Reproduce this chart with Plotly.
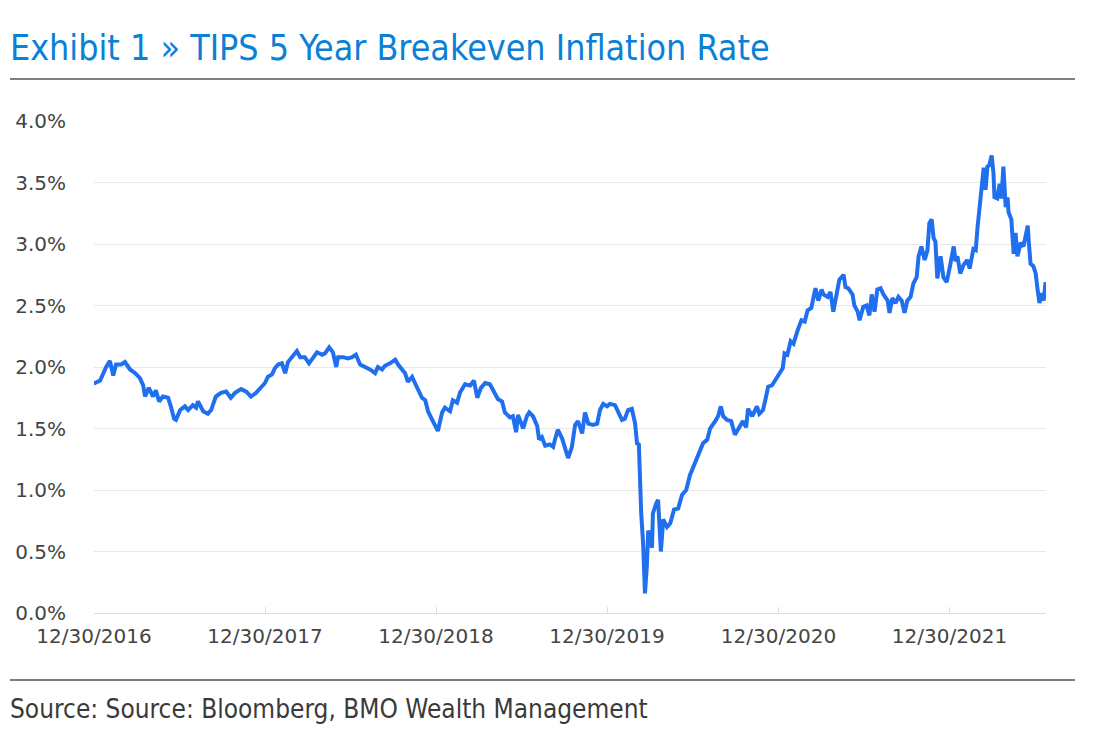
import plotly.graph_objects as go

# ---------------- data ----------------
dates_2017 = ["2016-12-30", "2017-01-01", "2017-01-12", "2017-01-18", "2017-01-25", "2017-02-02",
              "2017-02-09", "2017-02-15", "2017-02-26", "2017-03-06", "2017-03-17", "2017-03-28",
              "2017-04-07", "2017-04-14", "2017-04-18", "2017-04-26", "2017-05-05", "2017-05-11",
              "2017-05-18", "2017-05-26", "2017-06-06", "2017-06-12", "2017-06-19", "2017-06-23",
              "2017-07-02", "2017-07-12", "2017-07-19", "2017-07-29", "2017-08-05", "2017-08-09",
              "2017-08-20", "2017-08-30", "2017-09-06", "2017-09-16", "2017-09-27", "2017-10-08",
              "2017-10-18", "2017-10-27", "2017-11-09", "2017-11-20", "2017-11-30", "2017-12-11",
              "2017-12-19", "2017-12-30"]
vals_2017 = [1.87, 1.87, 1.89, 1.95, 2.00, 2.05,
             1.93, 2.02, 2.02, 2.04, 1.98, 1.95,
             1.91, 1.85, 1.76, 1.83, 1.76, 1.81,
             1.72, 1.76, 1.75, 1.68, 1.58, 1.57,
             1.65, 1.68, 1.65, 1.69, 1.67, 1.72,
             1.64, 1.62, 1.65, 1.76, 1.79, 1.80,
             1.75, 1.79, 1.82, 1.80, 1.76, 1.79,
             1.82, 1.87]

dates_2018 = ["2018-01-05", "2018-01-14", "2018-01-20", "2018-01-27", "2018-02-04", "2018-02-11",
              "2018-02-17", "2018-02-28", "2018-03-08", "2018-03-15", "2018-03-25", "2018-04-03",
              "2018-04-11", "2018-04-20", "2018-05-01", "2018-05-07", "2018-05-16", "2018-05-24",
              "2018-05-31", "2018-06-04", "2018-06-15", "2018-06-25", "2018-07-04", "2018-07-12",
              "2018-07-21", "2018-08-01", "2018-08-11", "2018-08-22", "2018-08-28", "2018-09-06",
              "2018-09-12", "2018-09-23", "2018-10-04", "2018-10-10", "2018-10-18", "2018-10-25",
              "2018-10-31", "2018-11-09", "2018-11-15", "2018-11-22", "2018-11-30", "2018-12-07",
              "2018-12-13", "2018-12-22", "2018-12-28"]
vals_2018 = [1.92, 1.94, 1.99, 2.02, 2.03, 1.95,
             2.04, 2.10, 2.13, 2.08, 2.08, 2.03,
             2.07, 2.12, 2.10, 2.11, 2.16, 2.12,
             2.00, 2.08, 2.08, 2.07, 2.08, 2.10,
             2.02, 2.00, 1.98, 1.95, 2.00, 1.98,
             2.01, 2.03, 2.06, 2.02, 1.98, 1.95,
             1.88, 1.92, 1.87, 1.81, 1.75, 1.73,
             1.64, 1.57, 1.52]

dates_2019 = ["2019-01-03", "2019-01-12", "2019-01-18", "2019-01-29", "2019-02-04", "2019-02-13",
              "2019-02-19", "2019-03-02", "2019-03-13", "2019-03-21", "2019-03-28", "2019-04-05",
              "2019-04-14", "2019-04-24", "2019-05-05", "2019-05-11", "2019-05-20", "2019-05-26",
              "2019-06-06", "2019-06-12", "2019-06-19", "2019-06-23", "2019-07-04", "2019-07-12",
              "2019-07-17", "2019-07-25", "2019-08-03", "2019-08-07", "2019-08-13", "2019-08-20",
              "2019-08-30", "2019-09-06", "2019-09-10", "2019-09-16", "2019-09-25", "2019-10-01",
              "2019-10-08", "2019-10-16", "2019-10-23", "2019-10-29", "2019-11-07", "2019-11-13",
              "2019-11-20", "2019-11-30", "2019-12-09", "2019-12-15", "2019-12-22", "2019-12-30"]
vals_2019 = [1.48, 1.63, 1.67, 1.64, 1.73, 1.71,
             1.79, 1.86, 1.85, 1.89, 1.75, 1.83,
             1.87, 1.86, 1.79, 1.74, 1.72, 1.63,
             1.59, 1.60, 1.47, 1.61, 1.50, 1.60,
             1.63, 1.60, 1.52, 1.41, 1.43, 1.36,
             1.37, 1.35, 1.41, 1.49, 1.42, 1.34,
             1.26, 1.35, 1.53, 1.56, 1.46, 1.63,
             1.54, 1.53, 1.54, 1.65, 1.70, 1.68]

dates_2020 = ["2020-01-05", "2020-01-16", "2020-01-22", "2020-01-31", "2020-02-06", "2020-02-13",
              "2020-02-21", "2020-02-28", "2020-03-03", "2020-03-07", "2020-03-12", "2020-03-16",
              "2020-03-20", "2020-03-24", "2020-03-27", "2020-03-31", "2020-04-04", "2020-04-06",
              "2020-04-13", "2020-04-17", "2020-04-23", "2020-04-28", "2020-05-06", "2020-05-13",
              "2020-05-21", "2020-05-30", "2020-06-07", "2020-06-16", "2020-06-24", "2020-07-05",
              "2020-07-11", "2020-07-22", "2020-07-31", "2020-08-06", "2020-08-17", "2020-08-23",
              "2020-08-29", "2020-09-03", "2020-09-11", "2020-09-20", "2020-09-28", "2020-10-05",
              "2020-10-15", "2020-10-22", "2020-10-26", "2020-11-04", "2020-11-10", "2020-11-14",
              "2020-11-19", "2020-11-27", "2020-12-03", "2020-12-08", "2020-12-16", "2020-12-23",
              "2020-12-30"]
vals_2020 = [1.70, 1.69, 1.64, 1.57, 1.58, 1.65,
             1.66, 1.54, 1.38, 1.37, 0.81, 0.57,
             0.16, 0.38, 0.67, 0.62, 0.53, 0.81,
             0.89, 0.92, 0.50, 0.76, 0.70, 0.73,
             0.84, 0.85, 0.96, 1.00, 1.12, 1.23,
             1.27, 1.38, 1.41, 1.50, 1.56, 1.60,
             1.68, 1.60, 1.57, 1.56, 1.45, 1.50,
             1.56, 1.51, 1.66, 1.60, 1.64, 1.68,
             1.62, 1.65, 1.75, 1.84, 1.85, 1.89,
             1.93]

dates_2021 = ["2021-01-08", "2021-01-12", "2021-01-18", "2021-01-25", "2021-01-31", "2021-02-09",
              "2021-02-17", "2021-02-24", "2021-03-02", "2021-03-10", "2021-03-15", "2021-03-19",
              "2021-03-25", "2021-04-01", "2021-04-05", "2021-04-14", "2021-04-20", "2021-04-26",
              "2021-05-03", "2021-05-09", "2021-05-18", "2021-05-22", "2021-05-28", "2021-06-06",
              "2021-06-10", "2021-06-17", "2021-06-21", "2021-06-29", "2021-07-06", "2021-07-12",
              "2021-07-17", "2021-07-23", "2021-07-29", "2021-08-05", "2021-08-11", "2021-08-20",
              "2021-08-24", "2021-08-30", "2021-09-06", "2021-09-12", "2021-09-19", "2021-09-25",
              "2021-10-01", "2021-10-08", "2021-10-14", "2021-10-21", "2021-10-25", "2021-10-31",
              "2021-11-07", "2021-11-13", "2021-11-17", "2021-11-22", "2021-11-26", "2021-11-30",
              "2021-12-04", "2021-12-11", "2021-12-17", "2021-12-24", "2021-12-30"]
vals_2021 = [1.99, 2.11, 2.10, 2.21, 2.19, 2.30,
             2.38, 2.37, 2.46, 2.48, 2.59, 2.64,
             2.54, 2.63, 2.59, 2.57, 2.61, 2.45,
             2.59, 2.71, 2.75, 2.65, 2.64, 2.59,
             2.50, 2.45, 2.38, 2.49, 2.50, 2.42,
             2.59, 2.45, 2.63, 2.64, 2.59, 2.54,
             2.44, 2.56, 2.52, 2.57, 2.54, 2.44,
             2.54, 2.57, 2.68, 2.73, 2.90, 2.98,
             2.87, 2.95, 3.17, 3.20, 3.05, 3.02,
             2.72, 2.90, 2.73, 2.69, 2.80]

dates_2022 = ["2022-01-03", "2022-01-08", "2022-01-12", "2022-01-16", "2022-01-22", "2022-01-29",
              "2022-02-06", "2022-02-11", "2022-02-19", "2022-02-24", "2022-02-28", "2022-03-04",
              "2022-03-08", "2022-03-13", "2022-03-17", "2022-03-21", "2022-03-25", "2022-03-30",
              "2022-04-03", "2022-04-05", "2022-04-11", "2022-04-16", "2022-04-20", "2022-04-24",
              "2022-04-29", "2022-05-03", "2022-05-05", "2022-05-11", "2022-05-16", "2022-05-20",
              "2022-05-24", "2022-05-31", "2022-06-06", "2022-06-10", "2022-06-15", "2022-06-17",
              "2022-06-21", "2022-06-27", "2022-07-02", "2022-07-06", "2022-07-10", "2022-07-14",
              "2022-07-19", "2022-07-23"]
vals_2022 = [2.88, 2.98, 2.86, 2.90, 2.76, 2.83,
             2.87, 2.80, 2.96, 2.95, 3.14, 3.30,
             3.49, 3.62, 3.44, 3.63, 3.64, 3.72,
             3.57, 3.38, 3.37, 3.49, 3.37, 3.63,
             3.30, 3.38, 3.26, 3.20, 2.92, 3.09,
             2.90, 3.01, 2.98, 3.07, 3.15, 3.03,
             2.84, 2.82, 2.76, 2.63, 2.52, 2.60,
             2.54, 2.69]

tick_dates = ["2016-12-30", "2017-12-30", "2018-12-30", "2019-12-30", "2020-12-30", "2021-12-30"]
tick_labels = ["12/30/2016", "12/30/2017", "12/30/2018", "12/30/2019", "12/30/2020", "12/30/2021"]
y_ticks = [0.0, 0.5, 1.0, 1.5, 2.0, 2.5, 3.0, 3.5, 4.0]
y_labels = ["0.0%", "0.5%", "1.0%", "1.5%", "2.0%", "2.5%", "3.0%", "3.5%", "4.0%"]

title_text = "Exhibit 1 » TIPS 5 Year Breakeven Inflation Rate"
source_text = "Source: Source: Bloomberg, BMO Wealth Management"

dates = dates_2017 + dates_2018 + dates_2019 + dates_2020 + dates_2021 + dates_2022
values = vals_2017 + vals_2018 + vals_2019 + vals_2020 + vals_2021 + vals_2022

# ---------------- figure ----------------
W, H = 1100, 747
OFF = 8  # page offset of the figure inside the browser
# target plot area on the page: x 94..1046, y 121..613
L = 94 - OFF
T = 121 - OFF
R = W - (1046 - OFF)
B = H - (613 - OFF)
pw, ph = W - L - R, H - T - B

def px(x):
    return (x - OFF - L) / pw

def py(y):
    return (H - B - (y - OFF)) / ph

fig = go.Figure()
fig.add_trace(go.Scatter(
    x=dates, y=values, mode="lines",
    line=dict(color="#1f6fef", width=4),
    hoverinfo="x+y", showlegend=False,
))

tick_font = dict(family="DejaVu Sans, Verdana, sans-serif", size=20, color="#444444")
narrow = "DejaVu Sans Condensed, Liberation Sans Narrow, sans-serif"

fig.update_layout(
    width=W, height=H,
    margin=dict(l=L, r=R, t=T, b=B, pad=0, autoexpand=False),
    paper_bgcolor="white", plot_bgcolor="white",
    xaxis=dict(
        type="date",
        range=["2016-12-30", "2022-07-24"],
        tickvals=tick_dates, ticktext=tick_labels,
        showgrid=False, zeroline=False,
        showline=True, linecolor="#dedede", linewidth=1,
        ticks="inside", ticklen=6, tickcolor="#dedede", tickwidth=1,
        tickfont=tick_font, ticklabelstandoff=5, automargin=False,
    ),
    yaxis=dict(
        range=[0, 4.0],
        tickvals=y_ticks, ticktext=y_labels,
        showgrid=True, gridcolor="#e8e8e8", gridwidth=1,
        zeroline=False, showline=False, ticks="",
        tickfont=tick_font, ticklabelstandoff=27, automargin=False,
    ),
    shapes=[
        dict(type="line", xref="paper", yref="paper", x0=px(10), x1=px(1075), y0=py(79), y1=py(79),
             line=dict(color="#7f7f7f", width=2)),
        dict(type="line", xref="paper", yref="paper", x0=px(10), x1=px(1075), y0=py(680), y1=py(680),
             line=dict(color="#7f7f7f", width=2)),
    ],
    annotations=[
        dict(text=title_text, xref="paper", yref="paper", x=px(8), y=py(47),
             xanchor="left", yanchor="middle", showarrow=False,
             font=dict(family=narrow, size=35.5, color="#0a80d8")),
        dict(text=source_text, xref="paper", yref="paper", x=px(8), y=py(709),
             xanchor="left", yanchor="middle", showarrow=False,
             font=dict(family=narrow, size=26, color="#3a3a3a")),
    ],
)

fig.write_html("out.html")
